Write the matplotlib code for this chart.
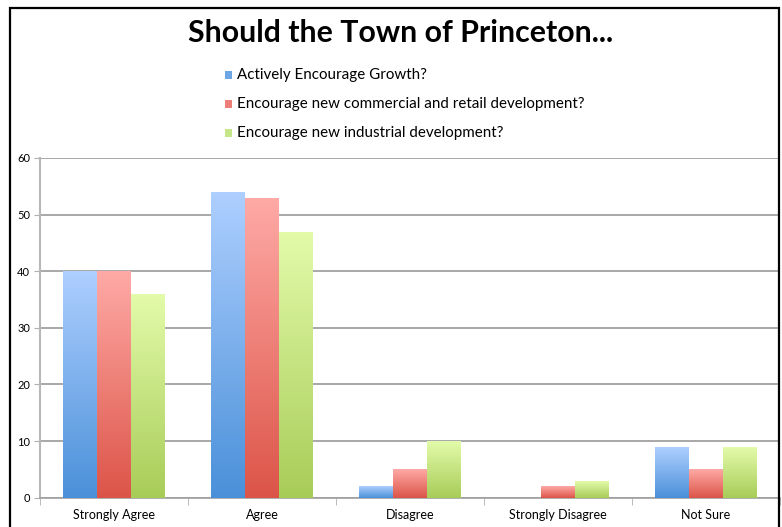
import numpy as np
import matplotlib
matplotlib.use("Agg")
import matplotlib.pyplot as plt
from matplotlib.patches import Rectangle
from matplotlib.colors import LinearSegmentedColormap

categories = ["Strongly Agree", "Agree", "Disagree", "Strongly Disagree", "Not Sure"]
series_names = [
    "Actively Encourage Growth?",
    "Encourage new commercial and retail development?",
    "Encourage new industrial development?",
]
growth = [40, 54, 2, 0, 9]
commercial = [40, 53, 5, 2, 5]
industrial = [36, 47, 10, 3, 9]
y_ticks = [0, 10, 20, 30, 40, 50, 60]

# (top colour, bottom colour) for each series' vertical gradient
gradients = [
    ("#aecfff", "#4a90d9"),
    ("#ffaaa6", "#dc5448"),
    ("#e3fbaa", "#a8cc58"),
]
legend_colors = ["#6fa6e6", "#ee7f78", "#c6e68a"]

plt.rcParams["font.family"] = ["Lato", "DejaVu Sans"]

W, H = 782, 527
fig = plt.figure(figsize=(W / 100, H / 100), dpi=100)
ax = fig.add_axes([40 / W, 1 - 497.7 / H, 740 / W, (497.7 - 158) / H])

values = [growth, commercial, industrial]
x = np.arange(len(categories))
bar_w = 0.228
offsets = [-bar_w, 0, bar_w]

for vals, off, (top_c, bot_c) in zip(values, offsets, gradients):
    cmap = LinearSegmentedColormap.from_list("g", [bot_c, top_c])
    bars = ax.bar(x + off, vals, width=bar_w, facecolor="none", edgecolor="none", zorder=3)
    for b in bars:
        h = b.get_height()
        if h <= 0:
            continue
        x0 = b.get_x()
        grad = np.linspace(0, 1, 256).reshape(-1, 1)
        im = ax.imshow(grad, cmap=cmap, origin="lower", aspect="auto",
                       extent=[x0, x0 + bar_w, 0, h], zorder=3)
        im.set_clip_path(b)

ax.set_xlim(-0.5, len(categories) - 0.5)
ax.set_ylim(0, 60)
ax.set_yticks(y_ticks)
ax.set_xticks(x)
ax.set_xticklabels(categories, fontsize=9)
ax.tick_params(axis="y", labelsize=8, length=4, color="#b0b0b0", pad=3)
ax.set_xticks(np.arange(len(categories) + 1) - 0.5, minor=True)
ax.tick_params(axis="x", which="major", length=0, pad=8)
ax.tick_params(axis="x", which="minor", length=5, color="#b0b0b0")
ax.yaxis.grid(True, color="#999999", linewidth=1.2, zorder=0)
ax.set_axisbelow(True)
for s in ["top", "right"]:
    ax.spines[s].set_visible(False)
ax.spines["left"].set_color("#b8b8b8")
ax.spines["left"].set_linewidth(1.5)
ax.spines["bottom"].set_color("#a0a0a0")
ax.spines["bottom"].set_linewidth(1.2)

# outer chart frame
fig.add_artist(Rectangle((10 / W, -0.05), 769 / W, 1.05 - 8 / H,
                         transform=fig.transFigure, fill=False,
                         edgecolor="black", linewidth=1.6))

fig.text(401 / W, 1 - 33 / H, "Should the Town of Princeton...",
         ha="center", va="center", fontsize=21.8, fontweight="bold")

rows = [75, 104, 133]
for name, col, yy in zip(series_names, legend_colors, rows):
    fig.add_artist(Rectangle((225 / W, 1 - (yy + 4) / H), 7 / W, 8 / H,
                             transform=fig.transFigure, facecolor=col, edgecolor="none"))
    fig.text(237 / W, 1 - yy / H, name, ha="left", va="center", fontsize=10.9)

fig.savefig("out.png", dpi=100)
